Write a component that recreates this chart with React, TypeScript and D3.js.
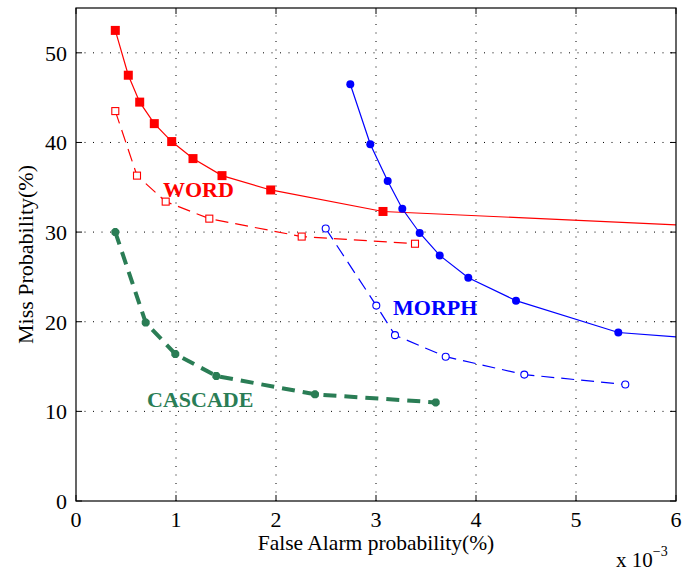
import React from "react";
import * as d3 from "d3";

// False-alarm probability (x 10^-3) and miss probability (%) for each detector
const wordSolidX = [0.393, 0.523, 0.637, 0.783, 0.957, 1.17, 1.46, 1.947, 3.07, 7.0];
const wordSolidY = [52.5, 47.5, 44.5, 42.1, 40.1, 38.2, 36.3, 34.7, 32.3, 30.3];

const wordDashX = [0.393, 0.61, 0.897, 1.333, 2.257, 3.39];
const wordDashY = [43.5, 36.3, 33.4, 31.5, 29.5, 28.7];

const morphSolidX = [2.743, 2.943, 3.117, 3.263, 3.437, 3.637, 3.923, 4.4, 5.423, 6.6];
const morphSolidY = [46.5, 39.8, 35.7, 32.6, 29.9, 27.4, 24.9, 22.35, 18.8, 17.8];

const morphDashX = [2.497, 3.003, 3.19, 3.697, 4.483, 5.493];
const morphDashY = [30.4, 21.8, 18.5, 16.1, 14.1, 13.0];

const cascadeX = [0.393, 0.697, 0.993, 1.403, 2.39, 3.597];
const cascadeY = [30.0, 19.9, 16.4, 13.95, 11.9, 11.0];

const xTicks = [0, 1, 2, 3, 4, 5, 6];
const yTicks = [0, 10, 20, 30, 40, 50];

const W = 683;
const H = 573;
const L = 76, R = 676, T = 8, B = 501;

const RED = "#ff0000";
const BLUE = "#0000ff";
const GREEN = "#2a7d55";
const FONT = "'Liberation Serif', 'Times New Roman', serif";

type Pt = [number, number];
const zip = (xs: number[], ys: number[]): Pt[] => xs.map((x, i) => [x, ys[i]]);

export default function App() {
  const x = d3.scaleLinear().domain([0, 6]).range([L, R]);
  const y = d3.scaleLinear().domain([0, 55]).range([B, T]);
  const line = d3.line<Pt>().x((d) => x(d[0])).y((d) => y(d[1]));

  const wordSolid = zip(wordSolidX, wordSolidY);
  const wordDash = zip(wordDashX, wordDashY);
  const morphSolid = zip(morphSolidX, morphSolidY);
  const morphDash = zip(morphDashX, morphDashY);
  const cascade = zip(cascadeX, cascadeY);

  const star = (cx: number, cy: number, r: number) =>
    `M${cx - r},${cy}L${cx + r},${cy}M${cx},${cy - r}L${cx},${cy + r}` +
    `M${cx - r * 0.72},${cy - r * 0.72}L${cx + r * 0.72},${cy + r * 0.72}` +
    `M${cx - r * 0.72},${cy + r * 0.72}L${cx + r * 0.72},${cy - r * 0.72}`;

  return (
    <svg
      width={W}
      height={H}
      style={{ position: "absolute", left: 0, top: 0, background: "#fff" }}
      fontFamily={FONT}
    >
      <defs>
        <clipPath id="plotArea">
          <rect x={L} y={T} width={R - L} height={B - T} />
        </clipPath>
      </defs>
      <rect x={0} y={0} width={W} height={H} fill="#fff" />

      {/* dotted grid */}
      <g stroke="#000" strokeWidth={1} strokeDasharray="1,7.5">
        {xTicks.slice(1, -1).map((t) => (
          <line key={"gx" + t} x1={x(t)} x2={x(t)} y1={B} y2={T} />
        ))}
        {yTicks.slice(1).map((t) => (
          <line key={"gy" + t} x1={L} x2={R} y1={y(t)} y2={y(t)} />
        ))}
      </g>

      {/* inward ticks on all sides */}
      <g stroke="#000" strokeWidth={1}>
        {xTicks.map((t) => (
          <g key={"tx" + t}>
            <line x1={x(t)} x2={x(t)} y1={B} y2={B - 6} />
            <line x1={x(t)} x2={x(t)} y1={T} y2={T + 6} />
          </g>
        ))}
        {yTicks.map((t) => (
          <g key={"ty" + t}>
            <line x1={L} x2={L + 6} y1={y(t)} y2={y(t)} />
            <line x1={R} x2={R - 6} y1={y(t)} y2={y(t)} />
          </g>
        ))}
      </g>

      <g clipPath="url(#plotArea)">
        {/* WORD */}
        <path d={line(wordSolid) ?? ""} fill="none" stroke={RED} strokeWidth={1.2} />
        <path d={line(wordDash) ?? ""} fill="none" stroke={RED} strokeWidth={1.2} strokeDasharray="13,7" />
        {wordSolid.map((d, i) => (
          <rect key={"ws" + i} x={x(d[0]) - 4.5} y={y(d[1]) - 4.5} width={9} height={9} fill={RED} />
        ))}
        {wordDash.map((d, i) => (
          <rect key={"wd" + i} x={x(d[0]) - 3.5} y={y(d[1]) - 3.5} width={7} height={7} fill="#fff" stroke={RED} strokeWidth={1.1} />
        ))}

        {/* MORPH */}
        <path d={line(morphSolid) ?? ""} fill="none" stroke={BLUE} strokeWidth={1.2} />
        <path d={line(morphDash) ?? ""} fill="none" stroke={BLUE} strokeWidth={1.2} strokeDasharray="13,7" />
        {morphSolid.map((d, i) => (
          <circle key={"ms" + i} cx={x(d[0])} cy={y(d[1])} r={4} fill={BLUE} />
        ))}
        {morphDash.map((d, i) => (
          <circle key={"md" + i} cx={x(d[0])} cy={y(d[1])} r={3.5} fill="#fff" stroke={BLUE} strokeWidth={1.1} />
        ))}

        {/* CASCADE */}
        <path d={line(cascade) ?? ""} fill="none" stroke={GREEN} strokeWidth={4} strokeDasharray="13,8" />
        {cascade.map((d, i) => (
          <path key={"c" + i} d={star(x(d[0]), y(d[1]), 4)} stroke={GREEN} strokeWidth={3} fill="none" />
        ))}
      </g>

      {/* axes box */}
      <rect x={L} y={T} width={R - L} height={B - T} fill="none" stroke="#000" strokeWidth={1.2} />

      {/* tick labels */}
      <g fontSize={22} fill="#000">
        {xTicks.map((t) => (
          <text key={"lx" + t} x={x(t)} y={B + 26} textAnchor="middle">
            {t}
          </text>
        ))}
        {yTicks.map((t) => (
          <text key={"ly" + t} x={L - 9} y={y(t) + 8} textAnchor="end">
            {t}
          </text>
        ))}
      </g>

      {/* axis labels */}
      <text x={(L + R) / 2} y={550} textAnchor="middle" fontSize={21.5}>
        False Alarm probability(%)
      </text>
      <text
        transform={`translate(33,${(T + B) / 2}) rotate(-90)`}
        textAnchor="middle"
        fontSize={22}
      >
        Miss Probability(%)
      </text>
      <text x={616} y={567} fontSize={21}>
        x 10
        <tspan dy={-11} fontSize={14}>−3</tspan>
      </text>

      {/* series names */}
      <g fontWeight="bold" fontSize={22}>
        <text x={163} y={197} fill={RED}>WORD</text>
        <text x={393} y={315} fill={BLUE}>MORPH</text>
        <text x={147} y={407} fill={GREEN}>CASCADE</text>
      </g>
    </svg>
  );
}
